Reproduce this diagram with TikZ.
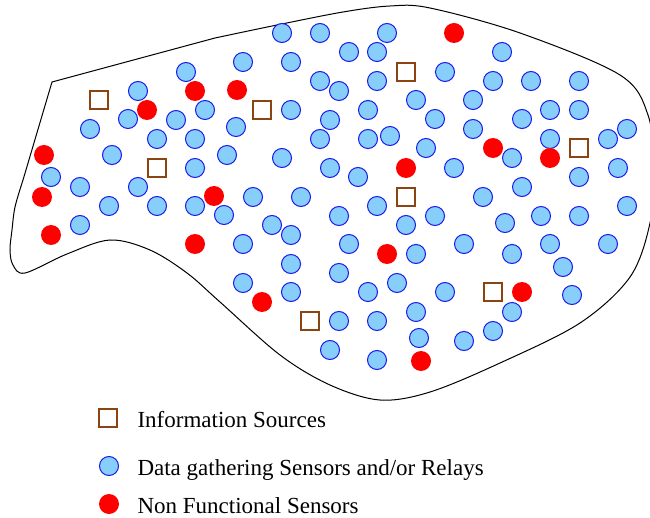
\documentclass[tikz,border=0pt]{standalone}
\usepackage{fontspec}
\setmainfont{Liberation Serif}
\definecolor{skyfill}{RGB}{135,206,250}
\definecolor{rimblue}{RGB}{25,25,235}
\definecolor{srcbrown}{RGB}{139,69,19}

\begin{document}
\begin{tikzpicture}[x=1pt,y=-1pt,
  data node/.style={circle,fill=skyfill,draw=rimblue,line width=1pt,minimum size=19pt,inner sep=0pt},
  dead node/.style={circle,fill=red,minimum size=20pt,inner sep=0pt},
  source node/.style={rectangle,draw=srcbrown,line width=1.3pt,fill=white,minimum size=18pt,inner sep=0pt},
  key text/.style={anchor=base west,font=\fontsize{23}{27}\selectfont}]
\useasboundingbox (0,0) rectangle (650,518);

% region boundary
\draw[line width=1pt] (52,82) -- plot[smooth,tension=0.55] coordinates {
  (215,38) (277,25) (343,12) (390,6) (430,8) (520,33) (620,75) (648,115)
  (654,170) (650,223) (630,277) (580,323) (500,363) (430,392)
  (380,400) (330,385) (280,355) (220,302) (187,273) (150,250)
  (110,240) (67,254) (25,273) (13,265) (10,250) (12,230) (15,207) (23,180)}
  -- cycle;

% data gathering sensors / relays
\foreach \x/\y [count=\i] in {
  282/33,320/33,387/33,349/52,377/52,502/52,243/62,291/62,186/72,445/72,
  320/81,377/81,493/81,531/81,579/81,138/91,339/91,416/100,473/100,
  205/110,291/110,368/110,550/110,579/110,128/119,176/120,330/120,435/119,522/119,
  90/129,236/127,473/129,627/129,157/139,195/139,320/139,368/139,390/136,550/139,608/139,
  426/148,112/155,227/155,282/158,512/158,195/168,330/168,454/168,618/168,
  51/177,358/177,579/177,80/187,138/187,522/187,253/197,301/197,483/197,
  109/206,157/206,195/206,377/206,627/206,224/215,339/216,435/216,541/216,579/216,505/223,
  80/225,272/225,406/225,291/235,243/244,349/244,464/244,550/244,608/244,
  416/254,512/254,291/264,563/267,339/273,243/283,397/283,
  291/292,368/292,445/292,572/295,416/312,512/312,339/321,377/321,
  493/331,419/338,464/341,330/350,377/360}
  \node[data node] (d\i) at (\x,\y) {};

% non functional sensors
\foreach \x/\y [count=\i] in {
  454/33,195/91,237/90,147/110,493/148,44/155,550/158,406/168,
  42/197,214/196,51/235,195/244,387/254,522/292,262/302,421/361}
  \node[dead node] (f\i) at (\x,\y) {};

% information sources
\foreach \x/\y [count=\i] in {
  99/100,406/72,262/110,579/148,157/168,406/197,493/292,310/321}
  \node[source node] (src\i) at (\x,\y) {};

% legend
\node[source node] (keysrc) at (108,418) {};
\node[data node] (keydata) at (109,466) {};
\node[dead node] (keydead) at (109,504) {};
\node[key text] (keysrctext) at (134,427) {Information Sources};
\node[key text] (keydatatext) at (134,475) {Data gathering Sensors and/or Relays};
\node[key text] (keydeadtext) at (134,513) {Non Functional Sensors};

\end{tikzpicture}
\end{document}
